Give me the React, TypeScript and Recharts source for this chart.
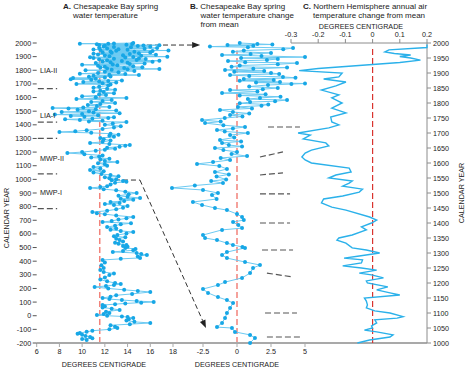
import React from 'react';
import { ScatterChart, Scatter, XAxis, YAxis, ReferenceLine } from 'recharts';

// ---------- Panel A: Chesapeake Bay spring water temperature ----------
const aYears = [
  -178, -170, -165, -156, -148, -140, -133, -127, -118, -110, -100, -90, -80, -70, -62, -53, -45, -35, -25, -17,
  -10, -5, 0, 5, 12, 20, 30, 42, 52, 60, 70, 78, 85, 90, 96, 101, 108, 115, 122, 130,
  140, 150, 160, 174, 182, 190, 200, 211, 218, 225, 232, 240, 252, 265, 280, 299, 310, 320, 336, 350,
  370, 390, 409, 417, 424, 435, 446, 453, 460, 468, 474, 480, 490, 497, 505, 512, 519, 527, 535, 545,
  555, 565, 575, 583, 592, 603, 614, 622, 630, 640, 651, 660, 670, 678, 687, 695, 705, 714, 724, 735,
  745, 752, 760, 770, 780, 792, 805, 812, 820, 827, 834, 842, 850, 857, 863, 872, 880, 890, 900, 910,
  920, 928, 937, 944, 950, 962, 975, 982, 988, 994, 1000, 1008, 1015, 1022, 1032, 1040, 1050, 1060, 1069, 1080,
  1090, 1100, 1110, 1118, 1127, 1135, 1145, 1152, 1160, 1168, 1175, 1185, 1193, 1200, 1210, 1218, 1225, 1232, 1240, 1246,
  1252, 1260, 1267, 1275, 1285, 1295, 1303, 1312, 1320, 1328, 1335, 1341, 1347, 1353, 1360, 1370, 1380, 1390, 1400, 1410,
  1420, 1425, 1430, 1435, 1440, 1445, 1450, 1455, 1460, 1465, 1470, 1475, 1480, 1485, 1490, 1494, 1500, 1505, 1510, 1515,
  1519, 1523, 1527, 1531, 1538, 1545, 1552, 1560, 1568, 1575, 1582, 1590, 1597, 1603, 1610, 1618, 1625, 1632, 1640, 1645,
  1650, 1657, 1665, 1672, 1680, 1688, 1695, 1700, 1705, 1710, 1714, 1718, 1722, 1725, 1730, 1735, 1738, 1743, 1747, 1752,
  1755, 1760, 1765, 1768, 1772, 1775, 1780, 1785, 1790, 1795, 1800, 1804, 1807, 1810, 1813, 1816, 1820, 1823, 1826, 1830,
  1833, 1836, 1840, 1843, 1846, 1850, 1853, 1856, 1859, 1862, 1865, 1868, 1870, 1873, 1876, 1879, 1882, 1885, 1887, 1890,
  1893, 1895, 1898, 1900, 1903, 1906, 1908, 1911, 1913, 1916, 1919, 1922, 1925, 1928, 1930, 1933, 1936, 1938, 1941, 1943,
  1945, 1948, 1950, 1952, 1955, 1958, 1960, 1963, 1965, 1968, 1970, 1972, 1975, 1978, 1980, 1982, 1984, 1986, 1988, 1990,
  1992, 1994, 1995, 1997, 2000,
];
const aTemps = [
  10.4, 10.0, 10.9, 10.7, 10.3, 10.0, 9.6, 9.8, 10.4, 10.9, 12.4, 13.1, 12.9, 12.5, 14.2, 16.0, 14.6, 13.9, 14.1, 14.5,
  14.0, 13.5, 12.2, 11.3, 11.9, 12.4, 12.1, 13.3, 12.6, 11.8, 12.0, 11.8, 12.9, 13.8, 15.2, 16.3, 14.8, 13.5, 12.4, 11.8,
  12.5, 13.0, 14.4, 16.0, 14.9, 13.7, 12.3, 11.1, 12.1, 12.8, 13.4, 12.9, 12.2, 11.6, 12.0, 12.4, 12.8, 11.9, 11.6, 11.9,
  11.7, 12.0, 11.8, 13.4, 15.1, 14.9, 15.7, 15.2, 14.8, 12.7, 13.6, 14.5, 14.7, 13.8, 14.0, 13.6, 13.9, 13.2, 12.9, 13.6,
  13.3, 13.0, 13.8, 12.8, 13.1, 13.9, 14.5, 13.4, 12.5, 13.0, 12.2, 12.9, 13.4, 14.3, 11.8, 12.6, 13.2, 13.9, 14.5, 13.0,
  12.0, 11.3, 10.9, 12.2, 13.0, 13.6, 14.0, 12.8, 12.0, 13.3, 12.5, 13.7, 14.5, 13.4, 15.1, 14.0, 13.2, 14.1, 14.8, 13.8,
  13.0, 11.9, 10.7, 11.6, 12.2, 12.5, 12.9, 13.9, 13.6, 12.6, 13.0, 12.4, 12.0, 13.2, 12.5, 11.7, 11.0, 11.9, 10.7, 11.6,
  11.0, 12.2, 12.0, 11.4, 13.1, 12.0, 11.6, 12.4, 10.8, 11.5, 11.8, 10.2, 8.7, 10.0, 11.2, 12.0, 12.9, 12.2, 13.3, 13.8,
  14.2, 12.4, 10.7, 11.8, 12.5, 11.9, 11.6, 12.8, 12.4, 13.2, 12.5, 10.8, 8.0, 9.4, 10.4, 11.8, 12.8, 13.4, 12.0, 12.7,
  13.9, 10.6, 11.8, 9.8, 8.5, 10.9, 12.3, 12.8, 10.2, 9.0, 11.4, 7.6, 10.0, 13.3, 11.0, 8.2, 10.6, 13.0, 9.6, 11.2,
  8.8, 7.4, 10.1, 12.4, 11.3, 10.5, 11.6, 12.9, 10.8, 11.8, 12.6, 9.5, 13.9, 11.2, 10.0, 12.1, 11.5, 12.8, 11.9, 11.0,
  11.6, 12.9, 12.2, 11.0, 11.5, 12.3, 12.5, 9.5, 11.8, 13.0, 10.1, 11.5, 12.3, 13.5, 10.8, 9.0, 11.2, 9.2, 12.0, 10.6,
  12.5, 11.0, 15.0, 12.4, 13.8, 9.8, 11.4, 13.2, 12.0, 14.6, 10.3, 12.6, 14.0, 16.8, 12.2, 13.7, 11.6, 15.3, 12.0, 14.5,
  11.4, 13.1, 10.0, 12.7, 14.2, 15.5, 11.2, 14.0, 12.5, 16.2, 11.8, 13.5, 16.8, 12.2, 14.8, 11.5, 15.6, 12.8, 15.0, 11.0,
  13.8, 10.7, 14.5, 17.5, 12.4, 15.2, 12.0, 13.6, 16.5, 11.4, 14.2, 11.0, 15.0, 12.6, 16.0, 11.8, 14.6, 12.5, 16.2, 13.0,
  17.6, 11.6, 14.0, 11.0, 13.2, 15.5, 12.2, 16.6, 11.5, 14.3, 12.8, 16.0, 11.9, 14.9, 12.0, 15.4, 16.8, 11.5, 13.9, 11.3,
  14.4, 12.3, 9.8, 12.8, 14.5,
];
const aMeanTemp = 11.55;
const aPeriodBoundaries = [1665, 1420, 1300, 1040, 785];
const aTicksX = [6, 8, 10, 12, 14, 16, 18];
const aTicksY = [-200, -100, 0, 100, 200, 300, 400, 500, 600, 700, 800, 900, 1000, 1100, 1200, 1300, 1400, 1500, 1600, 1700, 1800, 1900, 2000];

// ---------- Panel B: change from mean (last 1000 years) ----------
const bYears = [
  1000, 1017, 1027, 1037, 1050, 1053, 1067, 1083, 1100, 1117, 1133, 1143, 1153, 1167, 1180, 1193, 1203, 1217, 1233, 1250,
  1260, 1270, 1283, 1293, 1303, 1317, 1320, 1327, 1333, 1343, 1350, 1360, 1377, 1383, 1393, 1403, 1410, 1420, 1430, 1443,
  1450, 1460, 1470, 1480, 1493, 1500, 1510, 1517, 1525, 1533, 1540, 1545, 1555, 1562, 1570, 1580, 1590, 1597, 1603, 1610,
  1617, 1623, 1630, 1637, 1643, 1650, 1655, 1660, 1667, 1672, 1677, 1685, 1693, 1700, 1705, 1710, 1715, 1720, 1726, 1733,
  1738, 1743, 1750, 1755, 1760, 1765, 1770, 1777, 1782, 1787, 1791, 1795, 1799, 1803, 1806, 1810, 1813, 1817, 1821, 1825,
  1829, 1833, 1838, 1843, 1846, 1850, 1855, 1860, 1863, 1865, 1868, 1870, 1874, 1877, 1880, 1884, 1887, 1890, 1893, 1897,
  1900, 1904, 1907, 1910, 1914, 1918, 1921, 1925, 1929, 1933, 1936, 1940, 1943, 1947, 1950, 1953, 1957, 1960, 1963, 1967,
  1971, 1975, 1979, 1983, 1986, 1988, 1991, 1993, 1995, 1997, 2000,
];
const bChanges = [
  0.96, 1.32, 0.96, -0.15, -0.37, -1.47, -1.1, -0.88, -0.74, -0.51, -0.29, -0.74, -1.4, -2.13, -2.5, -1.4, -0.88, 0.37, 0.96, 1.18,
  1.69, 0.59, -0.74, -1.1, -0.74, 0.59, 0.4, -0.3, -0.74, -1.47, -2.35, -2.5, -1.1, 0.37, 0.1, -0.29, 0.5, 0.37, 0.0, -0.74,
  -1.62, -2.57, -3.24, -1.5, -1.84, -1.4, -2.5, -4.78, -3.1, -1.03, -1.9, -0.8, -1.5, -0.6, -1.62, -0.74, -1.3, -2.94, -1.76, -0.51,
  -1.2, 0.74, -0.4, 0.0, -1.0, -1.62, 0.37, -0.6, -1.1, 0.3, -1.25, -0.2, -0.51, 0.8, -0.9, -1.47, -0.3, 0.59, -1.0, -2.35,
  -1.2, -2.57, -0.9, 0.4, -0.51, 0.9, -0.3, -1.25, 1.1, 0.07, 1.8, 2.3, 0.2, 0.96, 2.8, 3.68, 0.8, 1.69, 3.2, 0.2,
  2.1, -1.1, 1.5, -0.51, 1.9, 3.0, 0.9, 2.28, 4.0, 5.0, 1.4, 3.16, 0.2, 2.7, 0.5, 4.3, 3.38, 0.9, -0.51, 3.1,
  2.5, -0.2, 2.0, -0.88, 1.2, 3.68, -0.4, 0.2, 3.0, 4.41, 0.6, -0.66, 2.2, 3.0, 0.3, 5.0, 1.8, -1.1, 1.0, 2.5,
  -0.3, 0.5, 3.4, 4.12, 0.8, -1.99, 1.2, -0.7, 2.6, 1.5, 0.2,
];
const bTicksX = [-2.5, 0, 2.5, 5];
// annotation dashes to the right of panel B: [year1, change1, year2, change2]
const bMarks = [
  [1720, 2.28, 1720, 4.63],
  [1620, 1.69, 1637, 3.38],
  [1560, 1.69, 1567, 3.38],
  [1497, 1.69, 1497, 3.9],
  [1400, 1.69, 1400, 3.9],
  [1310, 1.84, 1310, 4.12],
  [1233, 2.2, 1220, 4.12],
  [1100, 2.06, 1100, 4.41],
  [1020, 2.2, 1020, 4.63],
];

// ---------- Panel C: Northern Hemisphere annual air temperature change ----------
const cYears = [
  1000, 1010, 1020, 1027, 1037, 1043, 1050, 1057, 1067, 1077, 1083, 1088, 1100, 1107, 1117, 1127, 1140, 1150, 1160, 1167,
  1177, 1187, 1200, 1207, 1217, 1227, 1233, 1243, 1250, 1257, 1267, 1277, 1283, 1290, 1300, 1310, 1317, 1333, 1343, 1350,
  1360, 1377, 1387, 1400, 1410, 1420, 1443, 1453, 1467, 1480, 1490, 1503, 1513, 1523, 1533, 1540, 1550, 1560, 1570, 1583,
  1600, 1610, 1620, 1633, 1643, 1657, 1667, 1680, 1693, 1700, 1717, 1727, 1737, 1753, 1767, 1783, 1800, 1817, 1827, 1843,
  1857, 1870, 1880, 1887, 1900, 1908, 1915, 1925, 1935, 1943, 1950, 1955, 1960, 1965, 1970, 1977, 1985, 1995,
];
const cChanges = [
  -0.056, -0.011, 0.064, 0.075, 0.015, -0.03, 0.0, -0.004, 0.015, 0.008, 0.09, 0.112, 0.064, 0.008, -0.023, -0.019, -0.023, -0.03, 0.1, 0.064,
  0.015, 0.056, -0.019, -0.023, 0.04, -0.004, -0.049, 0.015, -0.041, -0.11, -0.041, -0.037, -0.105, -0.049, 0.026, -0.023, -0.075, -0.098, -0.131, -0.124,
  -0.075, -0.023, -0.041, -0.004, 0.015, -0.011, -0.098, -0.15, -0.188, -0.18, -0.11, -0.049, -0.037, -0.11, -0.086, -0.075, -0.161, -0.135, -0.079, -0.086,
  -0.225, -0.248, -0.26, -0.248, -0.225, -0.161, -0.172, -0.255, -0.229, -0.274, -0.161, -0.124, -0.15, -0.154, -0.098, -0.15, -0.112, -0.15, -0.124, -0.188,
  -0.135, -0.098, -0.18, -0.124, -0.112, -0.27, -0.2, -0.05, 0.1, 0.176, 0.14, 0.1, 0.14, 0.08, 0.045, 0.06, 0.2, 0.2,
];
const cTicksX = [-0.3, -0.2, -0.1, 0, 0.1, 0.2];
const cTicksY = [1000, 1050, 1100, 1150, 1200, 1250, 1300, 1350, 1400, 1450, 1500, 1550, 1600, 1650, 1700, 1750, 1800, 1850, 1900, 1950, 2000];

const aData = aYears.map((y, i) => ({ y, v: aTemps[i] }));
const bData = bYears.map((y, i) => ({ y, v: bChanges[i] }));
const cData = cYears.map((y, i) => ({ y, v: cChanges[i] }));

const FONT = '"Liberation Sans", Arial, Helvetica, sans-serif';
const BLUE = '#17a7e6';
const BLUE_LINE = '#6ccaf2';
const AXIS = '#a9a9a9';
const tickStyle = { fontSize: 7.2, fill: '#222', fontFamily: FONT };

const Dot = (p: any) => (p.cx == null ? <g /> : <circle cx={p.cx} cy={p.cy} r={2} fill={BLUE} />);
const NoDot = () => <g />;

const ArrowLine = (p: any) => {
  const { x1, y1, x2, y2 } = p;
  const ang = Math.atan2(y2 - y1, x2 - x1);
  const L = 8;
  const W = 3;
  const bx = x2 - L * Math.cos(ang);
  const by = y2 - L * Math.sin(ang);
  const pts = `${x2},${y2} ${bx + W * Math.sin(ang)},${by - W * Math.cos(ang)} ${bx - W * Math.sin(ang)},${by + W * Math.cos(ang)}`;
  return (
    <g>
      <line x1={x1} y1={y1} x2={bx} y2={by} stroke="#333" strokeWidth={1} strokeDasharray="5 3" />
      <polygon points={pts} fill="#222" />
    </g>
  );
};

const layer: React.CSSProperties = { position: 'absolute', left: 0, top: 0 };

export default function App() {
  return (
    <div style={{ position: 'absolute', left: 0, top: 0, width: 465, height: 368, background: '#fff', fontFamily: FONT }}>
      {/* Panel A */}
      <div style={layer}>
        <ScatterChart width={465} height={368} margin={{ top: 43, right: 292, bottom: 0, left: 6.7 }}>
          <XAxis type="number" dataKey="v" domain={[6, 18]} ticks={aTicksX} interval={0} height={25}
            tickSize={4} tickMargin={2} axisLine={{ stroke: AXIS, strokeWidth: 2 }} tickLine={{ stroke: AXIS }} tick={tickStyle} />
          <YAxis type="number" dataKey="y" domain={[-200, 2000]} ticks={aTicksY} interval={0} width={30}
            tickSize={4} tickMargin={1.5} axisLine={false} tickLine={{ stroke: '#555' }} tick={tickStyle} />
          {aPeriodBoundaries.map((yr) => (
            <ReferenceLine key={yr} segment={[{ x: 6.1, y: yr }, { x: 7.8, y: yr }]} stroke="#555" strokeWidth={1.2}
              strokeDasharray="6 3" ifOverflow="visible" />
          ))}
          <Scatter data={aData} isAnimationActive={false} shape={Dot}
            line={{ stroke: BLUE_LINE, strokeWidth: 1 }} lineJointType="linear" />
          <ReferenceLine segment={[{ x: aMeanTemp, y: -200 }, { x: aMeanTemp, y: 1960 }]} stroke="#f2837b"
            strokeWidth={1.5} strokeDasharray="6 3" ifOverflow="visible" />
          <ReferenceLine segment={[{ x: 15.71, y: 1985 }, { x: 20.39, y: 1985 }]} shape={ArrowLine} ifOverflow="visible" />
          <ReferenceLine segment={[{ x: 12.89, y: 995 }, { x: 15.09, y: 995 }]} stroke="#333" strokeWidth={1}
            strokeDasharray="5 3" ifOverflow="visible" />
          <ReferenceLine segment={[{ x: 15.09, y: 995 }, { x: 20.9, y: -90 }]} shape={ArrowLine} ifOverflow="visible" />
        </ScatterChart>
      </div>

      {/* Panel B */}
      <div style={layer}>
        <ScatterChart width={465} height={368} margin={{ top: 43, right: 160, bottom: 0, left: 169 }}>
          <XAxis type="number" dataKey="v" domain={[-5, 5]} ticks={bTicksX} interval={0} height={25}
            tickSize={4} tickMargin={2} axisLine={{ stroke: AXIS, strokeWidth: 2 }} tickLine={{ stroke: AXIS }} tick={tickStyle} />
          <YAxis type="number" dataKey="y" domain={[1000, 2000]} hide />
          {bMarks.map((m, i) => (
            <ReferenceLine key={i} segment={[{ x: m[1], y: m[0] }, { x: m[3], y: m[2] }]} stroke="#555" strokeWidth={1.2}
              strokeDasharray="6 3" ifOverflow="visible" />
          ))}
          <Scatter data={bData} isAnimationActive={false} shape={Dot}
            line={{ stroke: BLUE_LINE, strokeWidth: 1 }} lineJointType="linear" />
          <ReferenceLine segment={[{ x: 0, y: 1000 }, { x: 0, y: 1975 }]} stroke="#f2837b"
            strokeWidth={1.5} strokeDasharray="6 3" ifOverflow="visible" />
        </ScatterChart>
      </div>

      {/* Panel C */}
      <div style={layer}>
        <ScatterChart width={465} height={368} margin={{ top: 0, right: 0, bottom: 25, left: 291 }}>
          <XAxis type="number" dataKey="v" orientation="top" domain={[-0.3, 0.2]} ticks={cTicksX} interval={0} height={43}
            tickSize={4} tickMargin={2} axisLine={{ stroke: '#8c8c8c' }} tickLine={{ stroke: '#8c8c8c' }} tick={tickStyle} />
          <YAxis type="number" dataKey="y" orientation="right" domain={[1000, 2000]} ticks={cTicksY} interval={0} width={38}
            tickSize={4} tickMargin={2} axisLine={{ stroke: '#8c8c8c' }} tickLine={{ stroke: '#8c8c8c' }} tick={tickStyle} />
          <ReferenceLine y={1000} stroke={AXIS} strokeWidth={2} />
          <Scatter data={cData} isAnimationActive={false} shape={NoDot}
            line={{ stroke: '#2bb1ea', strokeWidth: 1.4 }} lineJointType="linear" />
          <ReferenceLine segment={[{ x: 0, y: 1000 }, { x: 0, y: 1987 }]} stroke="#d9342f"
            strokeWidth={1.2} strokeDasharray="6 3" ifOverflow="visible" />
        </ScatterChart>
      </div>

      {/* Text overlay */}
      <svg width={465} height={368} style={{ ...layer, pointerEvents: 'none' }} fontFamily={FONT} fill="#222">
        <text x={63} y={8.5} fontSize={8}><tspan fontWeight="bold">A.</tspan> Chesapeake Bay spring</text>
        <text x={73} y={17.5} fontSize={8}>water temperature</text>
        <text x={190} y={8.5} fontSize={8}><tspan fontWeight="bold">B.</tspan> Chesapeake Bay spring</text>
        <text x={200.5} y={17.5} fontSize={8}>water temperature change</text>
        <text x={200.5} y={26.5} fontSize={8}>from mean</text>
        <text x={303} y={8.5} fontSize={8}><tspan fontWeight="bold">C.</tspan> Northern Hemisphere annual air</text>
        <text x={313} y={17.5} fontSize={8}>temperature change from mean</text>
        <text x={361} y={28.5} fontSize={7.2} textAnchor="middle">DEGREES CENTIGRADE</text>
        <text x={104} y={367} fontSize={7.2} textAnchor="middle">DEGREES CENTIGRADE</text>
        <text x={237} y={367} fontSize={7.2} textAnchor="middle">DEGREES CENTIGRADE</text>
        <text x={8.5} y={218} fontSize={7.2} textAnchor="middle" transform="rotate(-90 8.5 218)">CALENDAR YEAR</text>
        <text x={464} y={193} fontSize={7.2} textAnchor="middle" transform="rotate(-90 464 193)">CALENDAR YEAR</text>
        <text x={40} y={73.3} fontSize={7.2}>LIA-II</text>
        <text x={40} y={117.6} fontSize={7.2}>LIA-I</text>
        <text x={40} y={160.6} fontSize={7.2}>MWP-II</text>
        <text x={40} y={194.6} fontSize={7.2}>MWP-I</text>
      </svg>
    </div>
  );
}
